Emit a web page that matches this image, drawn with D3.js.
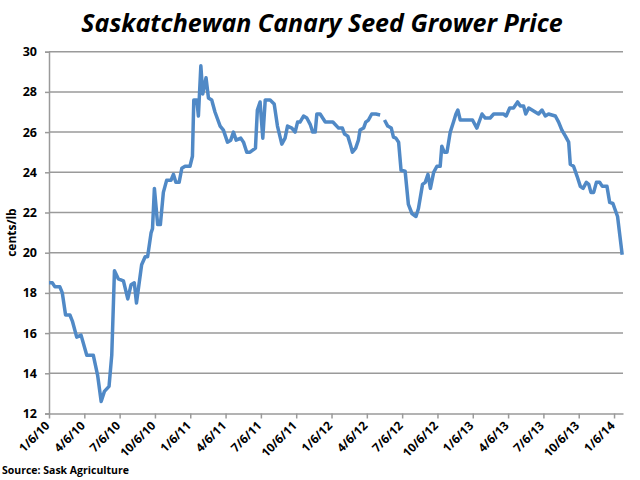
<!DOCTYPE html>
<html>
<head>
<meta charset="utf-8">
<script src="https://cdn.jsdelivr.net/npm/d3@7"></script>
<style>
  body { margin: 0; background: #fff; }
  text { font-family: "Open Sans", "DejaVu Sans", sans-serif; }
</style>
</head>
<body>
<svg id="chart" width="640" height="480"></svg>
<script>
/* weekly series as [week index, cents/lb] */
var weeks = [0, 1.2, 2.2, 4, 4.9, 6.1, 7.7, 8.6, 10.2, 11.8, 13.9, 16.3, 17.9, 19.2, 20.4, 22.1, 23.1, 24.1,
    25.5, 27.4, 29, 30.2, 31.4, 32.2, 34.1, 35.4, 36.3, 37.6, 38.1, 38.8, 40, 41, 42.1, 43.3, 44.9, 45.8,
    46.7, 47.9, 48.9, 50.1, 51.9, 52.8, 53.3, 54.4, 55, 55.9, 56.6, 57.8, 58.7, 59.9, 61.1, 63, 64.2, 65.7,
    66.9, 67.9, 68.9, 70.6, 71.6, 72.8, 74, 75, 76, 76.7, 77.7, 78.7, 79.6, 81.4, 82.9, 84.1, 85.7, 86.9,
    87.8, 89.4, 90.6, 91.5, 92.4, 93.7, 94.9, 96.1, 97.1, 98, 98.6, 99.8, 101.7, 104.5, 106.6, 108, 108.8,
    110, 110.9, 111.7, 112.9, 113.9, 114.5, 115.8, 116.6, 117.6, 118.8, 120.3, 121.9, 122.7, 123.5, 124.7,
    126, 126.8, 127.7, 128.7, 129.6, 131.1, 132.3, 133.6, 135.1, 136, 137.5, 138.5, 139.5, 140.4, 141.6,
    142.8, 144, 144.6, 145.5, 146.5, 147.7, 148.9, 149.8, 150.5, 151.4, 153.2, 155.9, 157.5, 159.4, 160.6,
    162.4, 163.7, 167.3, 168.3, 169.6, 171, 172.5, 173.5, 174.7, 175.5, 176.6, 177.8, 179, 180.2, 181.5,
    182.7, 183.9, 185.1, 186.4, 187.6, 188.8, 190.1, 191.3, 191.9, 193.1, 194.4, 195.6, 196.6, 197.8,
    198.7, 199.5, 200.5, 201.5, 202.7, 203.7, 205.4, 206.4, 207.6, 208.5, 209.3, 210.1, 211];
var prices = [18.5, 18.5, 18.3, 18.3, 18.0, 16.9, 16.9, 16.6, 15.8, 15.9, 14.9, 14.9, 13.9, 12.6, 13.1, 13.35, 14.9, 19.1,
    18.7, 18.6, 17.7, 18.4, 18.5, 17.5, 19.4, 19.8, 19.8, 21.0, 21.2, 23.2, 21.4, 21.4, 23.0, 23.6, 23.6, 23.9,
    23.5, 23.5, 24.2, 24.3, 24.3, 24.8, 27.6, 27.6, 26.8, 29.3, 27.9, 28.7, 27.7, 27.6, 27.0, 26.3, 26.1, 25.5,
    25.6, 26.0, 25.6, 25.7, 25.5, 25.0, 25.0, 25.1, 25.2, 27.1, 27.5, 25.7, 27.6, 27.6, 27.4, 26.3, 25.4, 25.7,
    26.3, 26.2, 26.0, 26.5, 26.5, 26.8, 26.7, 26.4, 26.0, 26.0, 26.9, 26.9, 26.5, 26.5, 26.2, 26.2, 25.9,
    25.8, 25.4, 25.0, 25.2, 25.6, 26.1, 26.2, 26.5, 26.6, 26.9, 26.9, 26.85, null, 26.6, 26.3,
    26.2, 25.75, 25.7, 25.5, 24.1, 24.05, 22.4, 21.95, 21.8, 22.2, 23.4, 23.5, 23.9, 23.2, 24.0,
    24.3, 24.3, 25.3, 25.0, 25.0, 26.0, 26.5, 26.9, 27.1, 26.6, 26.6, 26.6, 26.2, 26.9, 26.7,
    26.7, 26.9, 26.9, 26.8, 27.2, 27.2, 27.5, 27.3, 27.3, 26.9, 27.2, 27.1, 27.0, 26.9, 27.1,
    26.8, 26.9, 26.85, 26.8, 26.5, 26.1, 25.8, 25.5, 24.4, 24.3, 23.8, 23.3, 23.2, 23.5,
    23.4, 23.0, 23.0, 23.5, 23.5, 23.3, 23.3, 22.5, 22.45, 22.1, 21.8, 20.9, 19.9];
var tickLabels = ["1/6/10", "4/6/10", "7/6/10", "10/6/10", "1/6/11", "4/6/11", "7/6/11", "10/6/11",
    "1/6/12", "4/6/12", "7/6/12", "10/6/12", "1/6/13", "4/6/13", "7/6/13", "10/6/13", "1/6/14"];
var yTicks = [12, 14, 16, 18, 20, 22, 24, 26, 28, 30];

var svg = d3.select("#chart"),
    plotLeft = 49, plotRight = 623, plotTop = 51.7, plotBottom = 413.5;

var x = d3.scaleLinear().domain([0, 211.3]).range([plotLeft, plotRight]);
var y = d3.scaleLinear().domain([12, 30]).range([plotBottom, plotTop]);

// title
svg.append("text")
    .attr("x", 322).attr("y", 32)
    .attr("text-anchor", "middle")
    .style("font-size", "25px").style("font-weight", "bold").style("font-style", "italic")
    .text("Saskatchewan Canary Seed Grower Price");

// horizontal gridlines
svg.append("g").selectAll("line").data(yTicks.slice(1)).join("line")
    .attr("x1", plotLeft).attr("x2", plotRight)
    .attr("y1", function(d) { return y(d); }).attr("y2", function(d) { return y(d); })
    .attr("stroke", "#9a9a9a").attr("stroke-width", 1.5);

// y axis
var yAxis = svg.append("g")
    .attr("transform", "translate(" + plotLeft + ",0)")
    .call(d3.axisLeft(y).tickValues(yTicks).tickSize(4).tickPadding(8));
yAxis.selectAll("text").style("font-size", "12.5px").style("font-weight", "bold").attr("fill", "#000");
yAxis.selectAll("line, path").attr("stroke", "#9a9a9a").attr("stroke-width", 1.5);

// x axis, one tick every 13 weeks
var xAxis = svg.append("g")
    .attr("transform", "translate(0," + plotBottom + ")")
    .call(d3.axisBottom(x)
        .tickValues(tickLabels.map(function(d, i) { return i * 13; }))
        .tickFormat(function(d, i) { return tickLabels[i]; })
        .tickSize(5).tickSizeOuter(0));
xAxis.selectAll("line, path").attr("stroke", "#9a9a9a").attr("stroke-width", 1.5);
xAxis.selectAll("text")
    .style("font-size", "12px").style("font-weight", "bold").attr("fill", "#000")
    .attr("text-anchor", "end")
    .attr("y", 0).attr("dy", "0.35em")
    .attr("transform", "translate(-2,10) rotate(-45)");

// y title
svg.append("text")
    .attr("transform", "translate(16," + (plotTop + plotBottom) / 2 + ") rotate(-90)")
    .attr("text-anchor", "middle")
    .style("font-size", "12px").style("font-weight", "bold")
    .text("cents/lb");

// source
svg.append("text")
    .attr("x", 2).attr("y", 474)
    .style("font-size", "10.5px").style("font-weight", "bold")
    .text("Source: Sask Agriculture");

// price line
var line = d3.line()
    .defined(function(d) { return d[1] !== null; })
    .x(function(d) { return x(d[0]); })
    .y(function(d) { return y(d[1]); });

svg.append("path")
    .datum(d3.zip(weeks, prices))
    .attr("fill", "none")
    .attr("stroke", "#5089c6")
    .attr("stroke-width", 3.5)
    .attr("stroke-linejoin", "round")
    .attr("d", line);
</script>
</body>
</html>
